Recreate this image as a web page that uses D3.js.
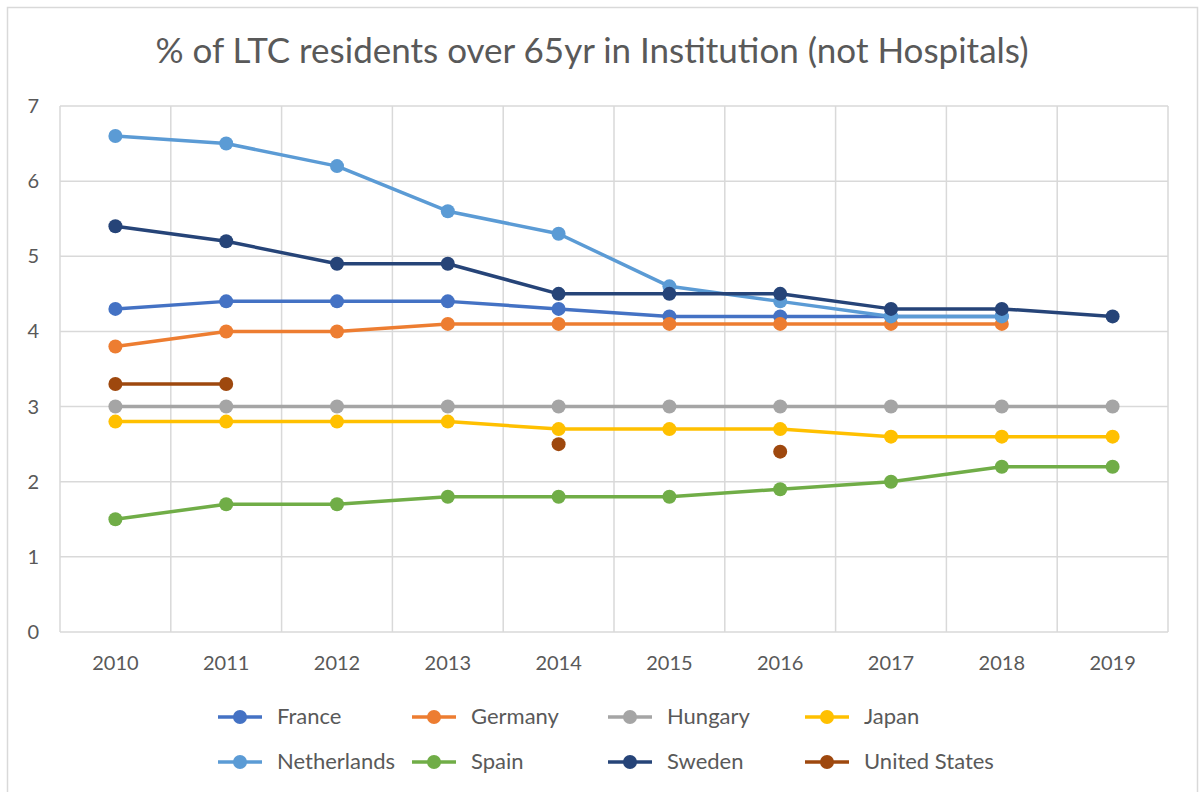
<!DOCTYPE html>
<html>
  <head>
    <meta charset="utf-8">
    <script src="https://d3js.org/d3.v7.min.js"></script>
    <style>
      body { margin: 0; background: #fff; }
      text { font-family: Lato, "Open Sans", sans-serif; fill: #595959; }
    </style>
  </head>
<body>
<script>
// chart data
var years = ["2010", "2011", "2012", "2013", "2014", "2015", "2016", "2017", "2018", "2019"];
var countries = ["France", "Germany", "Hungary", "Japan", "Netherlands", "Spain", "Sweden", "United States"];
var france      = [4.3, 4.4, 4.4, 4.4, 4.3, 4.2, 4.2, 4.2, 4.2, null];
var germany     = [3.8, 4.0, 4.0, 4.1, 4.1, 4.1, 4.1, 4.1, 4.1, null];
var hungary     = [3.0, 3.0, 3.0, 3.0, 3.0, 3.0, 3.0, 3.0, 3.0, 3.0];
var japan       = [2.8, 2.8, 2.8, 2.8, 2.7, 2.7, 2.7, 2.6, 2.6, 2.6];
var netherlands = [6.6, 6.5, 6.2, 5.6, 5.3, 4.6, 4.4, 4.2, 4.2, null];
var spain       = [1.5, 1.7, 1.7, 1.8, 1.8, 1.8, 1.9, 2.0, 2.2, 2.2];
var sweden      = [5.4, 5.2, 4.9, 4.9, 4.5, 4.5, 4.5, 4.3, 4.3, 4.2];
var unitedStates = [3.3, 3.3, null, null, 2.5, null, 2.4, null, null, null];
var yTicks = [0, 1, 2, 3, 4, 5, 6, 7];
var colors = ["#4472C4", "#ED7D31", "#A5A5A5", "#FFC000", "#5B9BD5", "#70AD47", "#264478", "#9E480E"];

var seriesValues = [france, germany, hungary, japan, netherlands, spain, sweden, unitedStates];

var width = 1203, height = 792;
// plot area edges (don't use "top" - it's window.top)
var plotL = 60, plotR = 1168, plotT = 106, plotB = 632;

var svg = d3.select("body").append("svg")
    .attr("width", width)
    .attr("height", height);

// chart frame
svg.append("rect")
    .attr("x", 7.5).attr("y", 7.5)
    .attr("width", 1190).attr("height", 800)
    .attr("fill", "#fff")
    .attr("stroke", "#d9d9d9")
    .attr("stroke-width", 1.5);

// title
svg.append("text")
    .attr("x", 592).attr("y", 63)
    .attr("text-anchor", "middle")
    .style("font-size", "35px")
    .text("% of LTC residents over 65yr in Institution (not Hospitals)");

var x = d3.scaleBand().domain(years).range([plotL, plotR]);
var y = d3.scaleLinear().domain([0, 7]).range([plotB, plotT]);

// horizontal gridlines
svg.append("g").selectAll("line")
    .data(yTicks)
    .enter().append("line")
    .attr("x1", plotL).attr("x2", plotR)
    .attr("y1", function(d) { return y(d); })
    .attr("y2", function(d) { return y(d); })
    .attr("stroke", "#d9d9d9")
    .attr("stroke-width", 1.5);

// vertical gridlines at category edges
svg.append("g").selectAll("line")
    .data(years.concat(["end"]))
    .enter().append("line")
    .attr("x1", function(d, i) { return plotL + i * x.bandwidth(); })
    .attr("x2", function(d, i) { return plotL + i * x.bandwidth(); })
    .attr("y1", plotT).attr("y2", plotB)
    .attr("stroke", "#d9d9d9")
    .attr("stroke-width", 1.5);

// y labels
svg.append("g").selectAll("text")
    .data(yTicks)
    .enter().append("text")
    .attr("x", 39)
    .attr("y", function(d) { return y(d) + 7; })
    .attr("text-anchor", "end")
    .style("font-size", "20px")
    .text(function(d) { return d; });

// x labels
svg.append("g").selectAll("text")
    .data(years)
    .enter().append("text")
    .attr("x", function(d) { return x(d) + x.bandwidth() / 2; })
    .attr("y", 670)
    .attr("text-anchor", "middle")
    .style("font-size", "20px")
    .text(function(d) { return d; });

var line = d3.line()
    .defined(function(d) { return d.v !== null; })
    .x(function(d) { return x(d.year) + x.bandwidth() / 2; })
    .y(function(d) { return y(d.v); });

seriesValues.forEach(function(vals, s) {
    var pts = vals.map(function(v, i) { return { year: years[i], v: v }; });
    var g = svg.append("g");
    g.append("path")
        .datum(pts)
        .attr("d", line)
        .attr("fill", "none")
        .attr("stroke", colors[s])
        .attr("stroke-width", 3.5)
        .attr("stroke-linejoin", "round");
    g.selectAll("circle")
        .data(pts.filter(function(d) { return d.v !== null; }))
        .enter().append("circle")
        .attr("cx", function(d) { return x(d.year) + x.bandwidth() / 2; })
        .attr("cy", function(d) { return y(d.v); })
        .attr("r", 7)
        .attr("fill", colors[s]);
});

// legend, 4 per row
var legendX = [218, 412, 608, 805];
var legendY = [717, 762];
var leg = svg.append("g").selectAll("g")
    .data(countries)
    .enter().append("g")
    .attr("transform", function(d, i) {
        return "translate(" + legendX[i % 4] + "," + legendY[Math.floor(i / 4)] + ")";
    });
leg.append("line")
    .attr("x1", 0).attr("x2", 44)
    .attr("stroke", function(d, i) { return colors[i]; })
    .attr("stroke-width", 3.5);
leg.append("circle")
    .attr("cx", 22).attr("r", 7)
    .attr("fill", function(d, i) { return colors[i]; });
leg.append("text")
    .attr("x", 59).attr("y", 7)
    .style("font-size", "22px")
    .text(function(d) { return d; });
</script>
</body>
</html>
